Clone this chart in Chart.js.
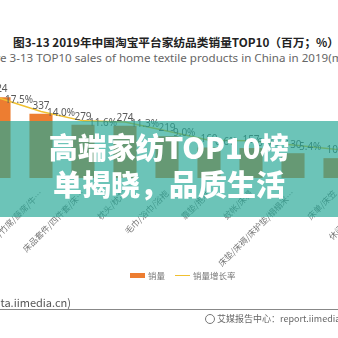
<!DOCTYPE html>
<html>
<head>
<meta charset="utf-8">
<script src="https://cdn.jsdelivr.net/npm/chart.js@4.4.1/dist/chart.umd.min.js"></script>
<style>
  html, body { margin: 0; padding: 0; background: #fff; }
  body { width: 338px; height: 338px; overflow: hidden; position: relative; font-family: "Noto Sans CJK SC", "Noto Sans", sans-serif; }
  .line-text { position: absolute; white-space: nowrap; }
  #titleCn { top: 33px; left: 176px; transform: translateX(-50%); font-size: 11.7px; font-weight: bold; color: #222; }
  #titleEn { top: 50px; left: 180px; transform: translateX(-50%); font-size: 11.6px; color: #666; font-family: "Noto Sans", "Noto Sans CJK SC", sans-serif; }
  #chartBox { position: absolute; left: -22px; top: 0; width: 420px; height: 288px; }
  #banner { position: absolute; left: 0; top: 121px; width: 338px; height: 96px; background: rgba(36,167,149,0.67); }
  #bannerText { position: absolute; left: 0; top: 128px; width: 338px; text-align: center; color: #fff; font-weight: 900; font-size: 29px; line-height: 37px; }
  .legend { position: absolute; top: 269px; font-size: 8.5px; color: #777; display: flex; align-items: center; }
  #source { position: absolute; right: 267px; top: 294px; font-size: 11px; color: #555; white-space: nowrap; }
  #rule { position: absolute; left: 0; top: 309px; width: 338px; height: 0; border-top: 1.5px solid #888; }
  #credit { position: absolute; left: 205px; top: 312px; font-size: 9px; color: #666; white-space: nowrap; display: flex; align-items: center; }
</style>
</head>
<body>
<div id="titleCn" class="line-text">图3-13 2019年中国淘宝平台家纺品类销量TOP10（百万；%）</div>
<div id="titleEn" class="line-text">Figure 3-13 TOP10 sales of home textile products in China in 2019(million; %)</div>

<div id="chartBox"><canvas id="chart" width="420" height="288"></canvas></div>

<div class="legend" style="left:130px;">
  <span style="display:inline-block;width:15px;height:5px;background:#ED7D31;margin-right:3px;"></span>销量
  <span style="display:inline-block;width:15px;height:0;border-top:1.5px solid #F0C030;margin:0 3px 0 10px;"></span>销量增长率
</div>

<div id="banner"></div>
<div id="bannerText">高端家纺TOP10榜<br>单揭晓，品质生活</div>

<div id="source">数据来源：艾媒数据中心(data.iimedia.cn)</div>
<div id="rule"></div>
<div id="credit"><span style="display:inline-block;width:10px;height:10px;border-radius:50%;border:1.5px solid #777;margin-right:2px;box-sizing:border-box;"></span>艾媒报告中心：report.iimedia.cn</div>

<script>
const categories = [
  "被子/蚕丝被/羽绒被…",
  "凉席/竹席/藤席/牛…",
  "床品套件/四件套/床…",
  "枕头/枕芯",
  "毛巾/浴巾/浴袍",
  "靠垫/抱枕",
  "蚊帐/床幔",
  "床垫/床褥/床护垫/榻榻米…",
  "床单/床笠",
  "休闲毯/毛毯/绒毯"
];
const salesValues = [424, 337, 279, 274, 219, 160, 157, 130, 104, 90];
const shareValues = [17.5, 14.0, 11.6, 11.3, 9.0, 6.6, 6.5, 5.4, 4.3, 3.7];

const valueLabels = {
  id: 'valueLabels',
  afterDatasetsDraw(chart) {
    const ctx = chart.ctx;
    ctx.save();
    ctx.font = '10px "Noto Sans", sans-serif';
    ctx.fillStyle = '#595959';
    ctx.textAlign = 'center';
    ctx.textBaseline = 'bottom';
    chart.getDatasetMeta(0).data.forEach((bar, i) => {
      ctx.fillText(salesValues[i], bar.x, bar.y - 3);
    });
    ctx.textAlign = 'left';
    ctx.textBaseline = 'middle';
    chart.getDatasetMeta(1).data.forEach((pt, i) => {
      ctx.fillText(shareValues[i].toFixed(1) + '%', pt.x + 6, pt.y + 2);
    });
    ctx.restore();
  }
};

new Chart(document.getElementById('chart').getContext('2d'), {
  type: 'bar',
  data: {
    labels: categories,
    datasets: [
      {
        label: '销量',
        data: salesValues,
        backgroundColor: '#ED7D31',
        barPercentage: 0.55,
        categoryPercentage: 1,
        yAxisID: 'y',
        order: 1
      },
      {
        type: 'line',
        label: '销量增长率',
        data: shareValues,
        borderColor: '#F0C030',
        borderWidth: 1.5,
        pointRadius: 0,
        tension: 0,
        yAxisID: 'y1',
        order: 0
      }
    ]
  },
  options: {
    responsive: false,
    devicePixelRatio: 1,
    animation: false,
    layout: { padding: { top: 75, left: 0, right: 0, bottom: 0 } },
    scales: {
      x: {
        grid: { display: false },
        border: { display: false },
        ticks: {
          color: '#777',
          font: { size: 8.5, family: '"Noto Sans CJK SC", sans-serif' },
          minRotation: 45,
          maxRotation: 45,
          autoSkip: false,
          padding: 2
        },
        afterFit: (scale) => {
          scale.height = 110;
          scale.paddingLeft = 0;
          scale.paddingRight = 0;
        }
      },
      y: { display: false, min: 0, max: 540 },
      y1: { display: false, min: -3.1, max: 23.4 }
    },
    plugins: {
      legend: { display: false },
      tooltip: { enabled: false }
    }
  },
  plugins: [valueLabels]
});
</script>
</body>
</html>
